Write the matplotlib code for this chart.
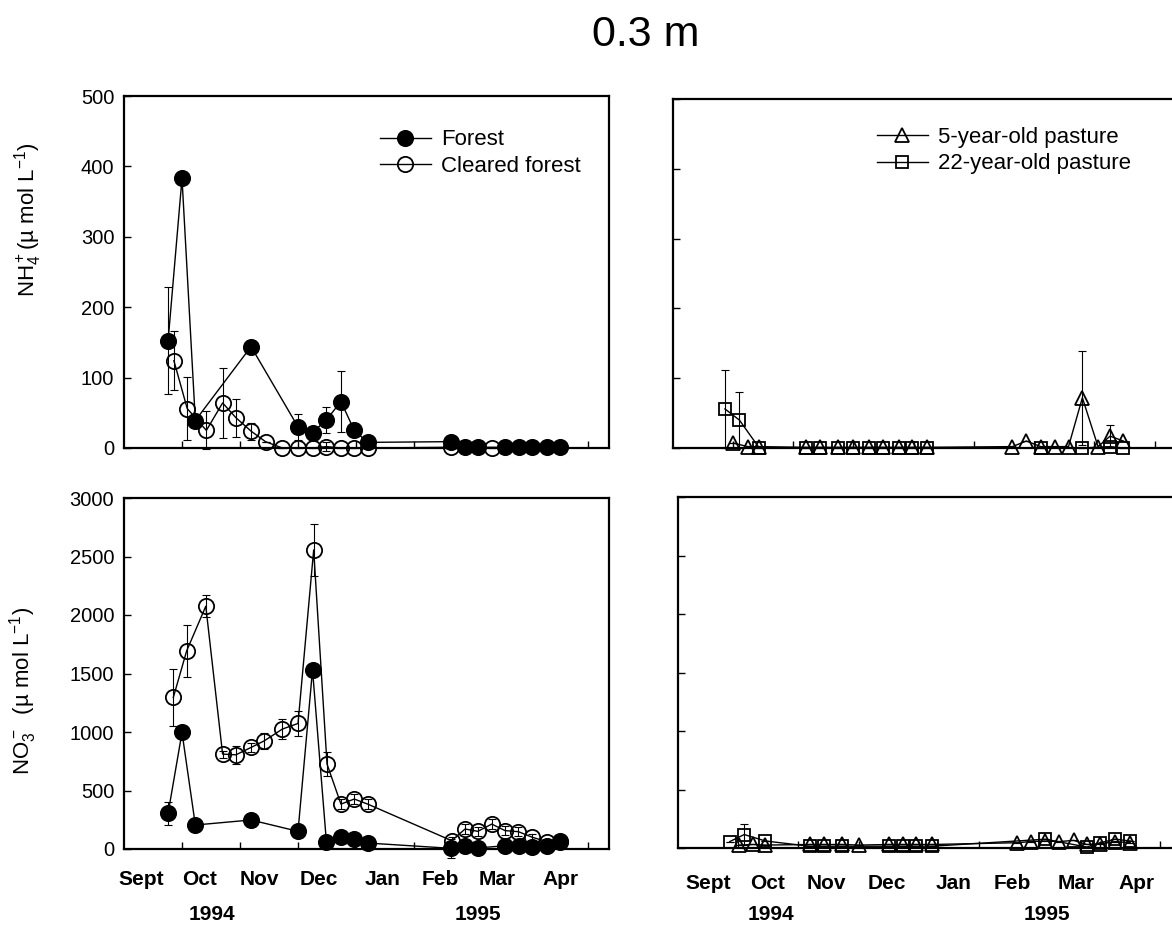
import matplotlib
matplotlib.use('Agg')
import matplotlib.pyplot as plt

plt.rcParams['font.family'] = ['Liberation Sans', 'DejaVu Sans']
plt.rcParams['mathtext.fontset'] = 'custom'
plt.rcParams['mathtext.rm'] = 'Liberation Sans'
plt.rcParams['mathtext.it'] = 'Liberation Sans:italic'
plt.rcParams['mathtext.bf'] = 'Liberation Sans:bold'

# x values are months after 1 Sept 1994 (1 = Oct 1, 8 = May 1)
# --- forest / cleared forest (left panels) ---
forest_x = [0.76, 1.00, 1.23, 2.19, 3.00, 3.25, 3.49, 3.74, 3.97, 4.20,
            5.63, 5.88, 6.10, 6.57, 6.81, 7.04, 7.29, 7.52]
forest_nh4 = [152, 383, 39, 144, 30, 22, 40, 66, 25, 8, 9, 2, 1, 1, 1, 1, 1, 1]
forest_nh4_err = [76, 0, 10, 0, 18, 0, 18, 43, 10, 0, 0, 0, 0, 0, 0, 0, 0, 0]
forest_no3 = [305, 996, 205, 248, 151, 1531, 57, 100, 85, 51,
              6, 23, 9, 28, 23, 20, 23, 65]
forest_no3_err = [100, 0, 0, 0, 0, 0, 0, 0, 0, 0, 80, 0, 0, 0, 0, 0, 0, 0]

cleared_nh4_x = [0.86, 1.09, 1.42, 1.70, 1.93, 2.19, 2.44, 2.73, 3.00, 3.25,
                 3.49, 3.74, 3.97, 4.20, 5.63, 6.34]
cleared_nh4 = [124, 56, 25, 64, 43, 24, 9, 0, 0, 0, 2, 0, 0, 0, 1, 0]
cleared_nh4_err = [42, 45, 27, 50, 27, 12, 0, 0, 0, 0, 6, 0, 0, 0, 0, 0]

cleared_no3_x = [0.85, 1.08, 1.41, 1.70, 1.93, 2.19, 2.42, 2.73, 3.00, 3.27,
                 3.50, 3.74, 3.97, 4.20, 5.65, 5.88, 6.10, 6.34, 6.57, 6.80,
                 7.04, 7.29, 7.52]
cleared_no3 = [1295, 1693, 2075, 811, 805, 868, 925, 1025, 1073, 2556,
               726, 384, 427, 384, 71, 171, 151, 213, 157, 148, 100, 63, 57]
cleared_no3_err = [245, 220, 95, 30, 75, 40, 70, 85, 110, 220,
                   100, 40, 40, 40, 30, 40, 40, 40, 40, 40, 30, 20, 20]

# --- pastures (right panels) ---
p5_nh4_x = [1.01, 1.25, 1.44, 2.21, 2.45, 2.75, 3.00, 3.26, 3.50, 3.76, 3.98,
            4.22, 5.64, 5.87, 6.11, 6.35, 6.57, 6.80, 7.06, 7.26, 7.48]
p5_nh4 = [7, 2, 2, 1, 1, 1, 1, 1, 1, 1, 1, 1, 2, 10, 2, 2, 2, 72, 2, 17, 10]
p5_nh4_err = [0, 0, 0, 0, 0, 0, 0, 0, 0, 0, 0, 0, 0, 0, 0, 0, 0, 67, 0, 16, 0]

p22_nh4_x = [0.87, 1.11, 1.44, 2.21, 2.45, 2.75, 3.00, 3.26, 3.50, 3.76,
             3.98, 4.22, 6.11, 6.80, 7.26, 7.48]
p22_nh4 = [56, 40, 0, 0, 0, 0, 0, 0, 0, 0, 0, 0, 0, 0, 2, 0]
p22_nh4_err = [56, 40, 0, 0, 0, 0, 0, 0, 0, 0, 0, 0, 0, 0, 0, 0]

p5_no3_x = [1.01, 1.25, 1.44, 2.19, 2.43, 2.73, 3.01, 3.50, 3.74, 3.96,
            4.21, 5.63, 5.86, 6.10, 6.33, 6.57, 6.79, 7.01, 7.26, 7.51]
p5_no3 = [25, 30, 25, 30, 30, 30, 25, 30, 30, 30, 30, 45, 55, 60, 55, 65,
          30, 35, 55, 45]

p22_no3_x = [0.86, 1.10, 1.45, 2.19, 2.43, 2.73, 3.50, 3.74, 3.96, 4.21,
             6.10, 6.79, 7.01, 7.26, 7.51]
p22_no3 = [55, 115, 60, 15, 15, 15, 15, 15, 15, 15, 75, 8, 45, 75, 60]
p22_no3_err = [0, 90, 0, 0, 0, 0, 0, 0, 0, 0, 0, 0, 0, 0, 0]

months = ['Sept', 'Oct', 'Nov', 'Dec', 'Jan', 'Feb', 'Mar', 'Apr']
month_pos_left = [0.30, 1.31, 2.34, 3.36, 4.45, 5.45, 6.43, 7.52]
month_pos_right = [0.51, 1.48, 2.47, 3.47, 4.58, 5.55, 6.61, 7.62]
years = ['1994', '1995']
year_pos_left = [1.52, 6.10]
year_pos_right = [1.55, 6.12]

W, H = 1172, 926
fig = plt.figure(figsize=(W / 100, H / 100), dpi=100)


def box(x0, x1, y0, y1):
    return [x0 / W, 1 - y1 / H, (x1 - x0) / W, (y1 - y0) / H]


ax_tl = fig.add_axes(box(124, 609.5, 96, 448))
ax_tr = fig.add_axes(box(672.5, 1177, 99, 448))
ax_bl = fig.add_axes(box(124, 609.5, 498, 849))
ax_br = fig.add_axes(box(678, 1182, 497, 848))

XMAX = 8.37


def series(ax, x, y, err, marker, filled, ms, label):
    fc = 'black' if filled else 'none'
    ax.errorbar(x, y, yerr=err, fmt='none', ecolor='black', elinewidth=0.8,
                capsize=3, capthick=0.8, clip_on=False, zorder=2)
    ax.plot(x, y, color='black', lw=1.0, marker=marker, ms=ms, mfc=fc,
            mec='black', mew=1.3, clip_on=False, zorder=3, label=label)


def style(ax, ymax, step, show_labels):
    ax.set_xlim(0, XMAX)
    ax.set_ylim(0, ymax)
    ax.set_xticks(range(1, 9))
    ax.set_xticklabels([])
    ax.set_yticks(range(0, ymax + 1, step))
    if not show_labels:
        ax.set_yticklabels([])
    ax.tick_params(direction='in', length=5, width=1.0, labelsize=14.5, pad=7)
    for s in ax.spines.values():
        s.set_linewidth(1.6)


series(ax_tl, cleared_nh4_x, cleared_nh4, cleared_nh4_err, 'o', False, 11, 'Cleared forest')
series(ax_tl, forest_x, forest_nh4, forest_nh4_err, 'o', True, 11, 'Forest')
style(ax_tl, 500, 100, True)
h, l = ax_tl.get_legend_handles_labels()
ax_tl.legend(h[::-1], l[::-1], loc='upper left', bbox_to_anchor=(0.527, 0.905),
             frameon=False, fontsize=16, handlelength=2.3, handletextpad=0.45,
             labelspacing=0.25, borderpad=0, borderaxespad=0, numpoints=1)
ax_tl.set_ylabel('NH$_4^+$(µ mol L$^{-1}$)', fontsize=16)
ax_tl.yaxis.set_label_coords(-0.165, 0.65)

series(ax_tr, p5_nh4_x, p5_nh4, p5_nh4_err, '^', False, 9.5, '5-year-old pasture')
series(ax_tr, p22_nh4_x, p22_nh4, p22_nh4_err, 's', False, 9, '22-year-old pasture')
style(ax_tr, 500, 100, False)
ax_tr.legend(loc='upper left', bbox_to_anchor=(0.405, 0.92),
             frameon=False, fontsize=16, handlelength=2.3, handletextpad=0.45,
             labelspacing=0.25, borderpad=0, borderaxespad=0, numpoints=1)

series(ax_bl, cleared_no3_x, cleared_no3, cleared_no3_err, 'o', False, 11, None)
series(ax_bl, forest_x, forest_no3, forest_no3_err, 'o', True, 11, None)
style(ax_bl, 3000, 500, True)
ax_bl.set_ylabel('NO$_3^-$  (µ mol L$^{-1}$)', fontsize=16)
ax_bl.yaxis.set_label_coords(-0.175, 0.45)

series(ax_br, p5_no3_x, p5_no3, [0] * len(p5_no3), '^', False, 9.5, None)
series(ax_br, p22_no3_x, p22_no3, p22_no3_err, 's', False, 9, None)
style(ax_br, 3000, 500, False)

for ax, mpos, ypos, my, yy in [(ax_bl, month_pos_left, year_pos_left, -0.088, -0.188),
                               (ax_br, month_pos_right, year_pos_right, -0.10, -0.19)]:
    tr = ax.get_xaxis_transform()
    for m, p in zip(months, mpos):
        ax.text(p, my, m, transform=tr, ha='center', va='center',
                fontsize=15, fontweight='bold')
    for yr, p in zip(years, ypos):
        ax.text(p, yy, yr, transform=tr, ha='center', va='center',
                fontsize=15, fontweight='bold')

fig.text(646 / W, 1 - 35 / H, '0.3 m', ha='center', va='center', fontsize=31)

fig.savefig('out.png', dpi=100)
